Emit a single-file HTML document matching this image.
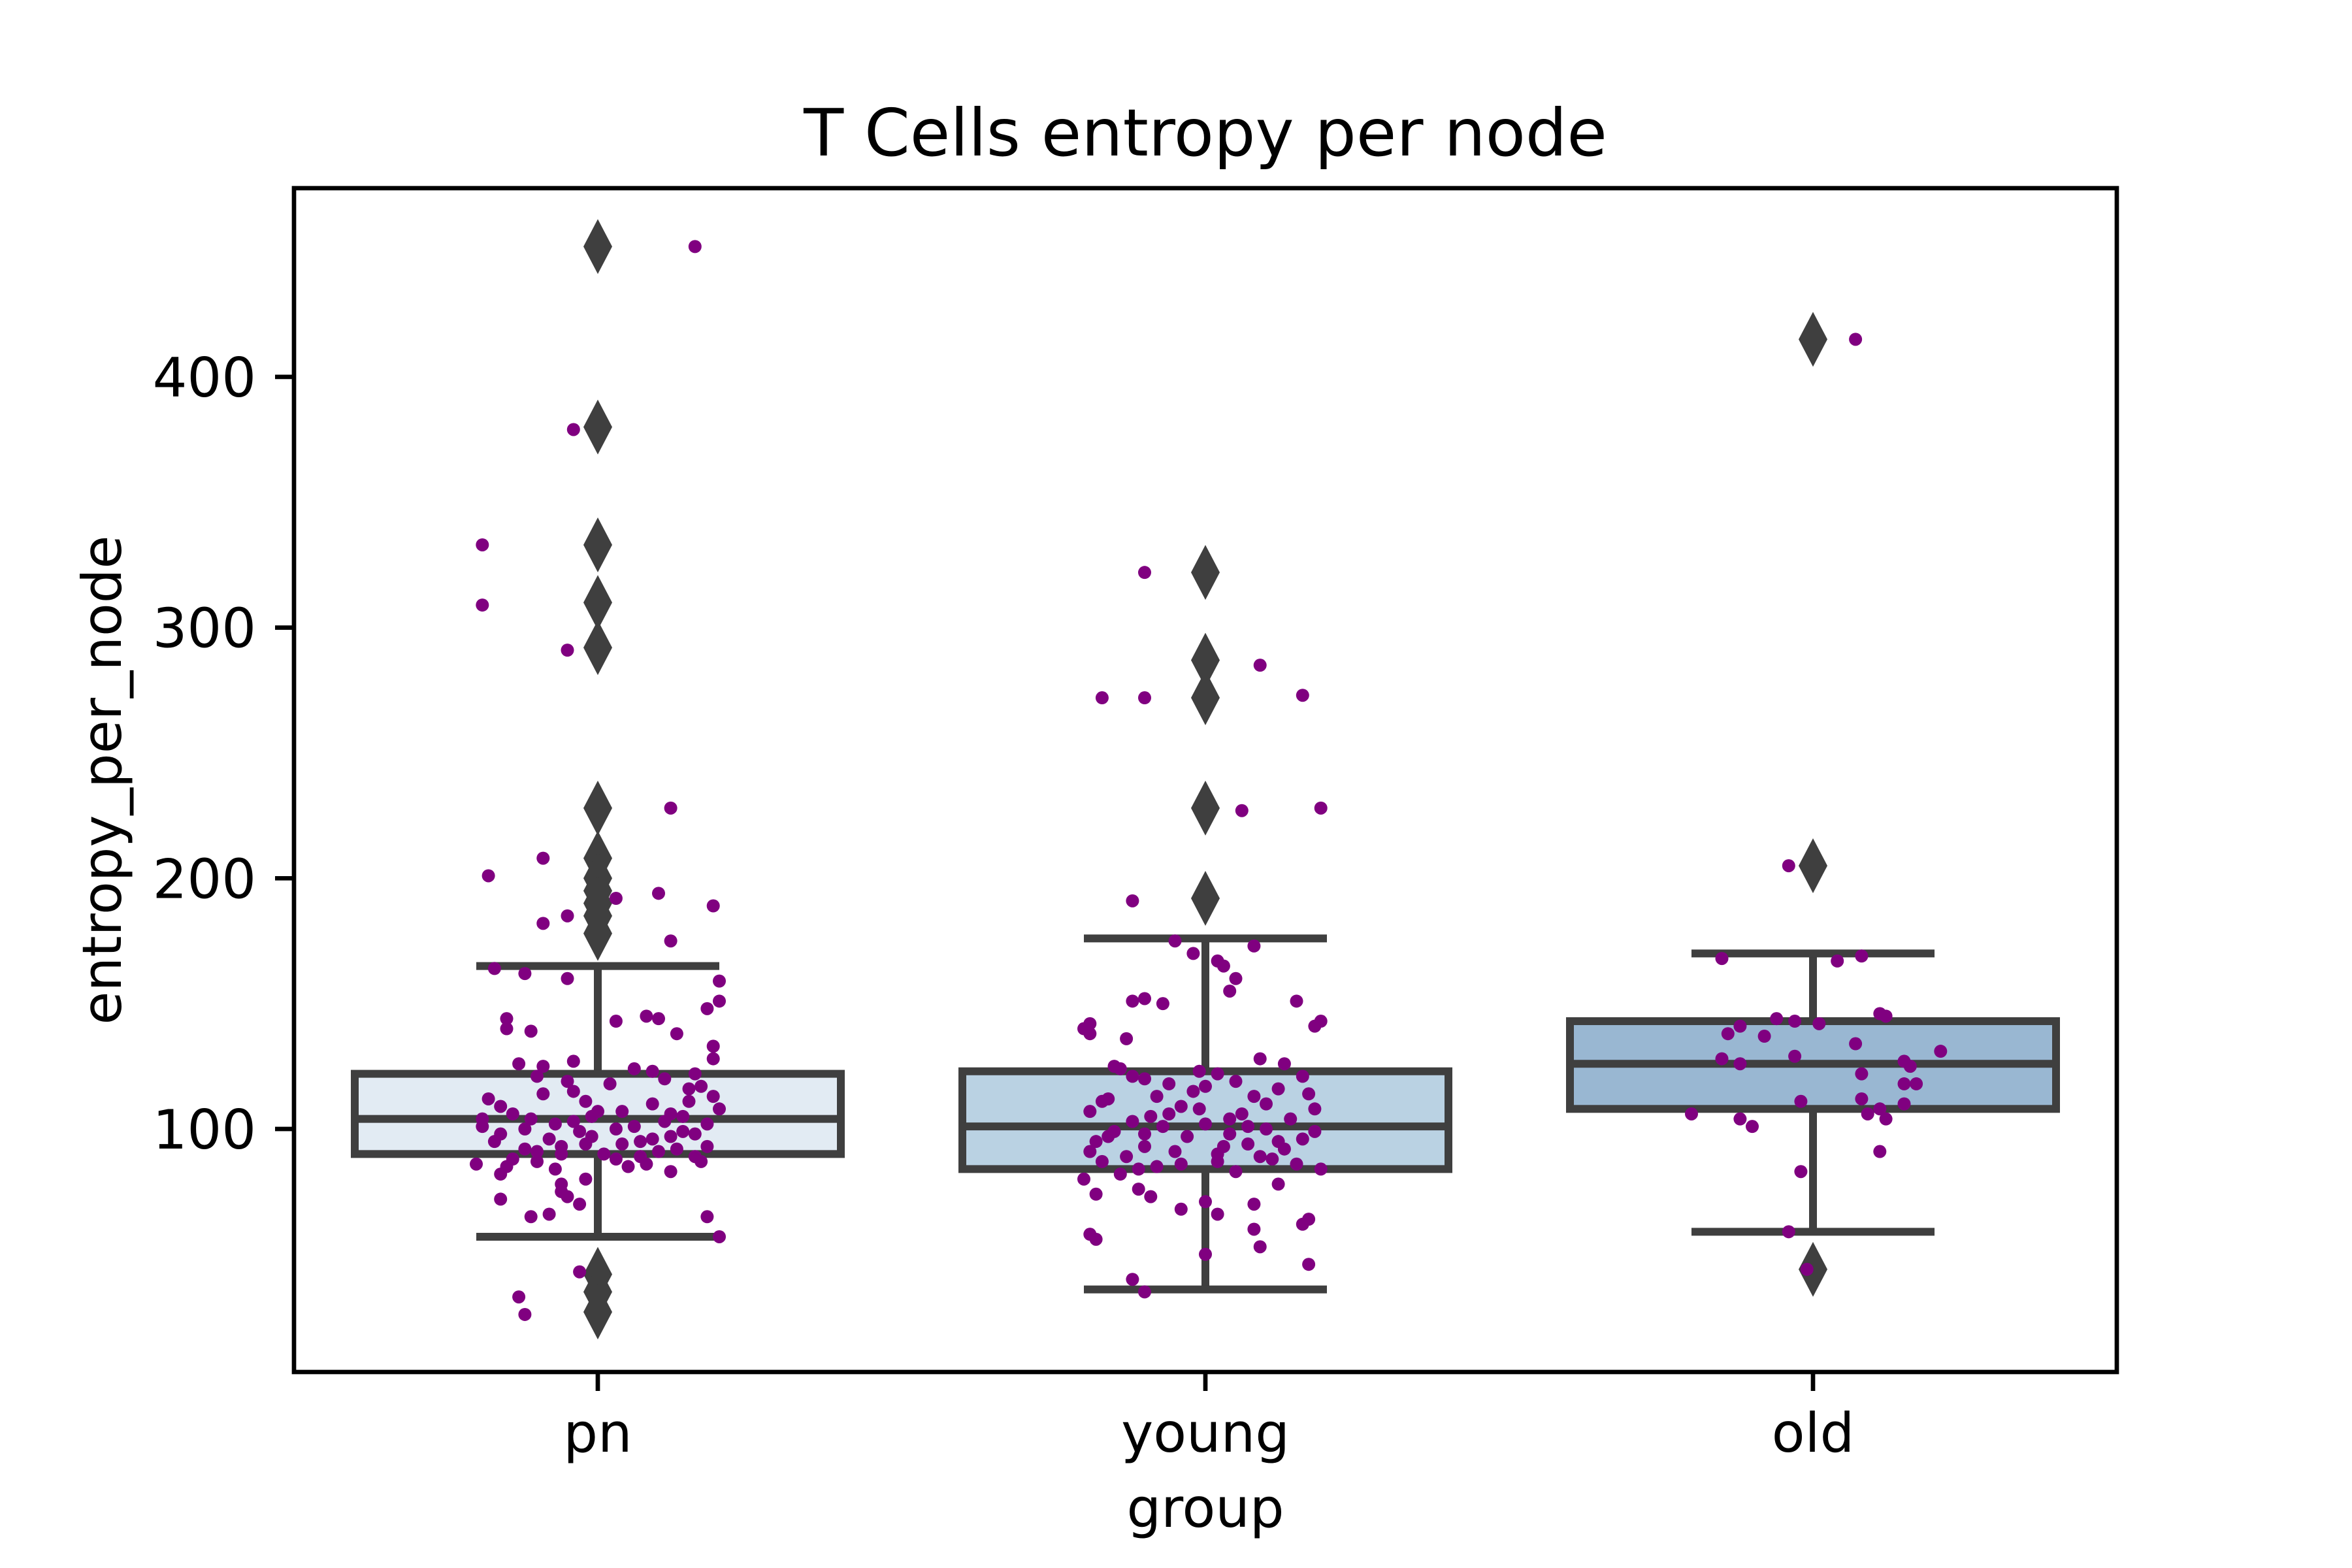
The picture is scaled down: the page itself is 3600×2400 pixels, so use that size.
<!DOCTYPE html>
<html><head><meta charset="utf-8"><style>
html,body{margin:0;padding:0;background:#fff}
svg{display:block;font-family:"DejaVu Sans","Liberation Sans",sans-serif}
</style></head><body>
<svg id="chart" width="3600" height="2400" viewBox="0 0 3600 2400" xmlns="http://www.w3.org/2000/svg">
<rect x="0" y="0" width="3600" height="2400" fill="#fff"/>
<text x="1845" y="238" font-size="100" text-anchor="middle" fill="#000">T Cells entropy per node</text>
<g id="plot"></g>
<text x="1845" y="2337" font-size="83" text-anchor="middle" fill="#000">group</text>
<text transform="translate(185,1194) rotate(-90)" font-size="83" text-anchor="middle" fill="#000">entropy_per_node</text>
</svg>
<script>
const categories = ["pn", "young", "old"];
const boxColors = ["#e2ebf3", "#bad2e3", "#99b7d2"];
const whiskerLow = [57, 36, 59];
const q1 = [90, 84, 108];
const medians = [104, 101, 126];
const q3 = [122, 123, 143];
const whiskerHigh = [165, 176, 170];
const outliersPn = [452, 380, 333, 310, 292, 228, 208, 200, 195, 190, 185, 178, 42, 35, 27];
const outliersYoung = [322, 287, 272, 228, 192];
const outliersOld = [415, 205, 44];
const yTicks = [100, 200, 300, 400];
const pnValues = [452,379,333,309,291,228,208,201,194,192,189,185,182,175,164,162,160,159,151,148,145,143,144,144,140,139,138,133,128,127,126,125,124,123,121,120,118,116,115,113,112,111,110,108,107,106,105,104,103,102,101,100,99,98,97,96,95,94,93,92,91,90,89,88,87,86,85,84,83,82,80,78,75,73,72,70,66,65,65,57,43,33,26,119,117,114,109,107,106,104,102,100,98,97,95,94,93,92,91,90,89,88,87,86,85,96,103,111,122,101,99,105];
const pnJitter = [0.16,-0.04,-0.19,-0.19,-0.05,0.12,-0.09,-0.18,0.1,0.03,0.19,-0.05,-0.09,0.12,-0.17,-0.12,-0.05,0.2,0.2,0.18,0.08,0.03,0.1,-0.15,-0.15,-0.11,0.13,0.19,0.19,-0.04,-0.13,-0.09,0.06,0.09,-0.1,0.11,0.02,0.15,-0.04,0.19,-0.18,0.15,0.09,0.2,0.04,-0.14,-0.01,-0.19,0.11,-0.07,0.06,-0.12,-0.03,0.16,-0.01,0.09,-0.17,0.04,-0.06,0.13,-0.1,0.01,0.07,-0.14,0.17,-0.2,0.05,-0.07,0.12,-0.16,-0.02,-0.06,-0.06,-0.05,-0.16,-0.03,-0.08,-0.11,0.18,0.2,-0.03,-0.13,-0.12,-0.05,0.17,-0.09,-0.16,0.0,0.12,-0.11,0.18,0.03,-0.16,0.12,0.07,-0.02,0.18,-0.12,0.1,-0.06,0.16,0.03,-0.1,0.08,-0.15,-0.08,-0.04,-0.02,0.16,-0.19,0.14,0.14];
const youngValues = [322,285,273,272,272,228,227,191,175,173,170,167,165,160,155,152,151,151,150,143,142,141,140,138,136,128,126,125,124,123,122,121,120,119,118,116,115,114,113,112,110,109,108,107,106,105,104,103,102,101,100,99,98,97,96,95,94,93,92,91,90,89,88,87,86,85,84,83,82,80,78,76,74,73,71,70,68,66,64,62,60,58,56,53,50,46,40,35,121,117,111,106,101,99,97,95,93,91,89,87,86,84,104,108,113,98];
const youngJitter = [-0.1,0.09,0.16,-0.17,-0.1,0.19,0.06,-0.12,-0.05,0.08,-0.02,0.02,0.03,0.05,0.04,-0.1,-0.12,0.15,-0.07,0.19,-0.19,0.18,-0.2,-0.19,-0.13,0.09,0.13,-0.15,-0.14,-0.01,0.02,0.16,-0.1,0.05,-0.06,0.12,-0.02,0.17,0.08,-0.16,0.1,-0.04,0.18,-0.19,0.06,-0.09,0.14,-0.12,0.0,-0.07,0.1,-0.15,0.04,-0.03,0.16,-0.18,0.07,-0.1,0.13,-0.05,0.02,-0.13,0.11,-0.17,0.15,-0.08,0.19,0.05,-0.14,-0.2,0.12,-0.11,-0.18,-0.09,0.0,0.08,-0.04,0.02,0.17,0.16,0.08,-0.19,-0.18,0.09,0.0,0.17,-0.12,-0.1,-0.12,0.0,-0.17,-0.06,0.07,0.18,-0.16,0.12,0.03,-0.19,0.09,0.02,-0.04,-0.11,0.04,-0.01,-0.08,-0.1];
const oldValues = [415,205,169,168,167,146,145,144,143,142,141,138,137,134,131,129,128,127,125,126,122,118,118,111,112,108,110,106,106,104,104,101,91,83,59,44];
const oldJitter = [0.07,-0.04,0.08,-0.15,0.04,0.11,0.12,-0.06,-0.03,0.01,-0.12,-0.14,-0.08,0.07,0.21,-0.03,-0.15,0.15,0.16,-0.12,0.08,0.17,0.15,-0.02,0.08,0.11,0.15,0.09,-0.2,0.12,-0.12,-0.1,0.11,-0.02,-0.04,-0.01];

const NS = "http://www.w3.org/2000/svg";
const AX = {left:450, right:3240, top:288, bottom:2100};
const step = (AX.right - AX.left) / categories.length;
function xScale(i){ return AX.left + step * (i + 0.5); }
function yScale(v){ return 1728 - (v - 100) * 3.837; }
const plot = document.getElementById('plot');
function mk(tag, attrs){ const e = document.createElementNS(NS, tag); for (const k in attrs) e.setAttribute(k, attrs[k]); plot.appendChild(e); return e; }

const outliers = [outliersPn, outliersYoung, outliersOld];
const pts = [[pnValues, pnJitter], [youngValues, youngJitter], [oldValues, oldJitter]];
const boxW = step * 0.8, capW = boxW * 0.5;

categories.forEach((c, i) => {
  const cx = xScale(i);
  const wl = mk('line', {x1:cx, x2:cx, y1:yScale(q3[i]), y2:yScale(whiskerHigh[i]), stroke:'#3f3f3f', 'stroke-width':12});
  
  
  const wl2 = mk('line', {x1:cx, x2:cx, y1:yScale(q1[i]), y2:yScale(whiskerLow[i]), stroke:'#3f3f3f', 'stroke-width':12});
  
  
  const cap1 = mk('line', {x1:cx-capW/2, x2:cx+capW/2, y1:yScale(whiskerHigh[i]), y2:yScale(whiskerHigh[i]), stroke:'#3f3f3f', 'stroke-width':12});
  
  
  const cap2 = mk('line', {x1:cx-capW/2, x2:cx+capW/2, y1:yScale(whiskerLow[i]), y2:yScale(whiskerLow[i]), stroke:'#3f3f3f', 'stroke-width':12});
  
  
  const box = mk('rect', {x:cx-boxW/2, y:yScale(q3[i]), width:boxW, height:yScale(q1[i])-yScale(q3[i]), fill:boxColors[i], stroke:'#3f3f3f', 'stroke-width':12});
  
  
  const med = mk('line', {x1:cx-boxW/2, x2:cx+boxW/2, y1:yScale(medians[i]), y2:yScale(medians[i]), stroke:'#3f3f3f', 'stroke-width':12});
  
  
  outliers[i].forEach(v => {
    const y = yScale(v);
    const d = mk('polygon', {points:`${cx},${y-42} ${cx+22},${y} ${cx},${y+42} ${cx-22},${y}`, fill:'#3f3f3f'});
    
    
  });
});
categories.forEach((c, i) => {
  const cx = xScale(i);
  const [vals, jit] = pts[i];
  vals.forEach((v, k) => {
    const p = mk('circle', {cx: cx + jit[k] * step, cy: yScale(v), r:10, fill:'#800080'});
    
    
  });
});
const frame = mk('rect', {x:AX.left, y:AX.top, width:AX.right-AX.left, height:AX.bottom-AX.top, fill:'none', stroke:'#000', 'stroke-width':6.7});


yTicks.forEach(t => {
  const y = yScale(t);
  const tk = mk('line', {x1:AX.left-29, x2:AX.left, y1:y, y2:y, stroke:'#000', 'stroke-width':6.7});
  
  
  const lb = mk('text', {x:AX.left-58, y:y+30, 'font-size':83, 'text-anchor':'end', fill:'#000'});
  lb.textContent = t;
  
  
});
categories.forEach((c, i) => {
  const x = xScale(i);
  const tk = mk('line', {x1:x, x2:x, y1:AX.bottom, y2:AX.bottom+29, stroke:'#000', 'stroke-width':6.7});
  
  
  const lb = mk('text', {x:x, y:2222, 'font-size':83, 'text-anchor':'middle', fill:'#000'});
  lb.textContent = c;
  
  
});
</script>
</body></html>
